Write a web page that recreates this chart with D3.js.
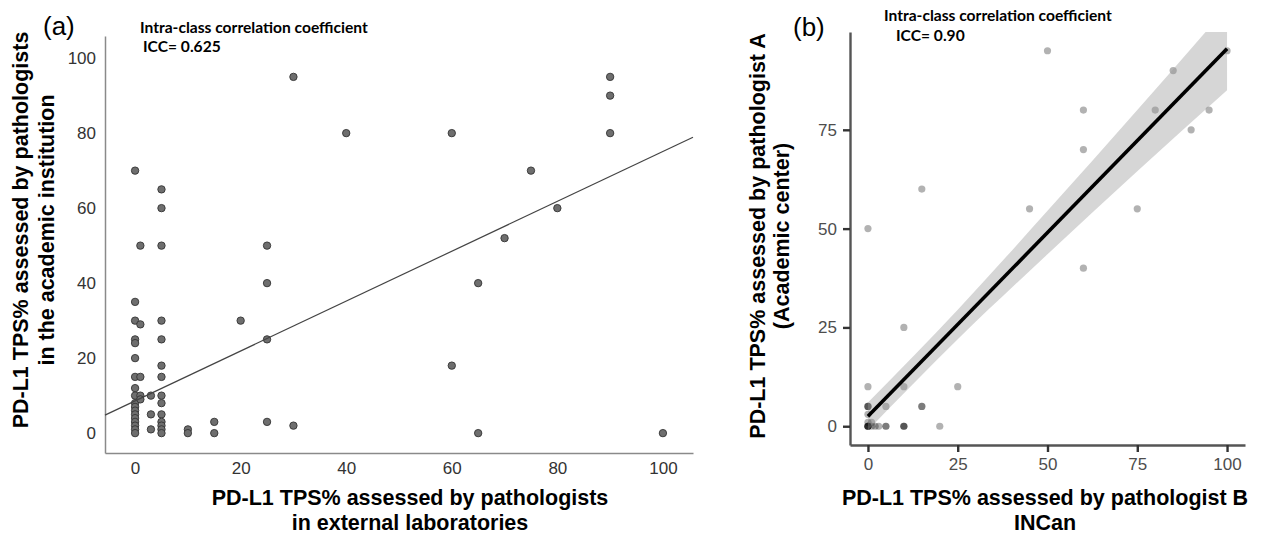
<!DOCTYPE html>
<html>
<head>
<meta charset="utf-8">
<script src="https://cdn.jsdelivr.net/npm/d3@7"></script>
<style>
  body { margin: 0; background: #fff; }
  .lbl { font-family: "Liberation Sans", Arial, sans-serif; font-weight: bold; fill: #000; }
  .icc { font-family: Lato, "Open Sans", sans-serif; font-weight: bold; fill: #000; }
  .tag { font-family: "Liberation Sans", Arial, sans-serif; fill: #000; }
</style>
</head>
<body>
<div id="chart"></div>
<script>
// panel (a): external laboratories (x) vs academic institution (y)
const aX = [0,0,0,0,0,0,0,0,0,0,0,0,0,0,0,0,0,0,
  1,1,1,1,1,
  3,3,3,
  5,5,5,5,5,5,5,5,5,5,5,5,5,5,
  10,10, 15,15, 20, 25,25,25,25, 30,30, 40, 60,60, 65,65, 70, 75, 80, 90,90,90, 100];
const aY = [70,35,30,25,24,20,15,12,10,8,7,6,5,4,3,2,1,0,
  50,29,15,10,9,
  10,5,1,
  65,60,50,30,25,18,15,10,8,5,3,2,1,0,
  1,0, 3,0, 30, 50,40,25,3, 95,2, 80, 80,18, 40,0, 52, 70, 60, 95,90,80, 0];
const aFit = [8.6, 0.665];   // intercept, slope
const aTicks = [0, 20, 40, 60, 80, 100];

// panel (b): pathologist B (x) vs pathologist A (y)
const bX = [0,0,0,0,0,1,0,1,2,3,5,5,10,10,10,20,
  0,0,0,0,5,15,15,
  0,10,25, 10, 0, 15, 45,75, 60, 60, 60,80,95, 90, 85, 50,100];
const bY = [0,0,0,0,0,1,1,0,0,0,0,0,0,0,0,0,
  3,5,5,5,5,5,5,
  10,10,10, 25, 50, 60, 55,55, 40, 70, 80,80,80, 75, 90, 95,95];
const bFit = [2.5, 0.93];
const bandX = [0, 25, 50, 75, 100];
const bandLow = [-1, 22, 43.5, 64.5, 85];
const bandHigh = [6, 29.5, 54.5, 80, 106];
const bTicksX = [0, 25, 50, 75, 100];
const bTicksY = [0, 25, 50, 75];

const W = 1279, H = 538;
const svg = d3.select('#chart').append('svg').attr('width', W).attr('height', H);
svg.append('rect').attr('width', W).attr('height', H).attr('fill', '#fff');

// ---------- panel (a)
const xa = d3.scaleLinear().domain([-5.7, 105.7]).range([105, 693]);
const ya = d3.scaleLinear().domain([-5.3, 105.9]).range([453, 36]);
const ga = svg.append('g');

const styleA = g => {
  g.select('.domain').attr('stroke', '#8a8a8a').attr('stroke-width', 1.5);
  g.selectAll('text').attr('font-family', '"Liberation Sans", Arial, sans-serif')
    .attr('font-size', 17).attr('fill', '#333');
};
ga.append('g')
  .attr('transform', `translate(0,${ya.range()[0]})`)
  .call(d3.axisBottom(xa).tickValues(aTicks).tickSize(0).tickPadding(9).tickSizeOuter(0))
  .call(styleA);
ga.append('g')
  .attr('transform', `translate(${xa.range()[0]},0)`)
  .call(d3.axisLeft(ya).tickValues(aTicks).tickSize(0).tickPadding(9).tickSizeOuter(0))
  .call(styleA);

ga.selectAll('circle').data(aX).join('circle')
  .attr('cx', d => xa(d))
  .attr('cy', (d, i) => ya(aY[i]))
  .attr('r', 3.7)
  .attr('fill', '#6e6e6e')
  .attr('stroke', '#333')
  .attr('stroke-width', 0.9);

const [ax0, ax1] = xa.domain();
ga.append('line')
  .attr('x1', xa(ax0)).attr('y1', ya(aFit[0] + aFit[1] * ax0))
  .attr('x2', xa(ax1)).attr('y2', ya(aFit[0] + aFit[1] * ax1))
  .attr('stroke', '#444').attr('stroke-width', 1.2);

svg.append('text').attr('class', 'tag').attr('x', 43).attr('y', 35).attr('font-size', 26).text('(a)');
svg.append('text').attr('class', 'icc').attr('x', 140).attr('y', 33).attr('font-size', 15.6)
  .text('Intra-class correlation coefficient');
svg.append('text').attr('class', 'icc').attr('x', 143).attr('y', 52).attr('font-size', 15.6)
  .text('ICC= 0.625');

const aYl = svg.append('text').attr('class', 'lbl').attr('font-size', 21.5)
  .attr('text-anchor', 'middle').attr('transform', 'translate(0,230) rotate(-90)');
aYl.append('tspan').attr('x', 0).attr('y', 28).text('PD-L1 TPS% assessed by pathologists');
aYl.append('tspan').attr('x', 0).attr('y', 54).text('in the academic institution');

const aXl = svg.append('text').attr('class', 'lbl').attr('font-size', 21.5).attr('text-anchor', 'middle');
aXl.append('tspan').attr('x', 410).attr('y', 505).text('PD-L1 TPS% assessed by pathologists');
aXl.append('tspan').attr('x', 410).attr('y', 530).text('in external laboratories');

// ---------- panel (b)
const xb = d3.scaleLinear().domain([-5, 105]).range([850, 1245]);
const yb = d3.scaleLinear().domain([-4.75, 99.75]).range([445, 32]);
const gb = svg.append('g');

svg.append('clipPath').attr('id', 'clipb').append('rect')
  .attr('x', xb.range()[0]).attr('y', yb.range()[1])
  .attr('width', xb.range()[1] - xb.range()[0]).attr('height', yb.range()[0] - yb.range()[1]);

const plot = gb.append('g').attr('clip-path', 'url(#clipb)');

plot.selectAll('circle').data(bX).join('circle')
  .attr('cx', d => xb(d))
  .attr('cy', (d, i) => yb(bY[i]))
  .attr('r', 3.6)
  .attr('fill', '#000')
  .attr('fill-opacity', 0.3);

const area = d3.area()
  .x(d => xb(d))
  .y0((d, i) => yb(bandLow[i]))
  .y1((d, i) => yb(bandHigh[i]))
  .curve(d3.curveMonotoneX);
plot.append('path').datum(bandX).attr('d', area)
  .attr('fill', '#999').attr('fill-opacity', 0.4);

plot.append('line')
  .attr('x1', xb(0)).attr('y1', yb(bFit[0]))
  .attr('x2', xb(100)).attr('y2', yb(bFit[0] + bFit[1] * 100))
  .attr('stroke', '#000').attr('stroke-width', 3.6);

const styleB = g => {
  g.select('.domain').attr('stroke', '#555').attr('stroke-width', 2.4);
  g.selectAll('.tick line').attr('stroke', '#333').attr('stroke-width', 2.4);
  g.selectAll('text').attr('font-family', '"Liberation Sans", Arial, sans-serif')
    .attr('font-size', 17).attr('fill', '#4d4d4d');
};
gb.append('g')
  .attr('transform', `translate(0,${yb.range()[0]})`)
  .call(d3.axisBottom(xb).tickValues(bTicksX).tickSize(7).tickPadding(6).tickSizeOuter(0))
  .call(styleB);
gb.append('g')
  .attr('transform', `translate(${xb.range()[0]},0)`)
  .call(d3.axisLeft(yb).tickValues(bTicksY).tickSize(7).tickPadding(6).tickSizeOuter(0))
  .call(styleB);

svg.append('text').attr('class', 'tag').attr('x', 793).attr('y', 36).attr('font-size', 26).text('(b)');
svg.append('text').attr('class', 'icc').attr('x', 884).attr('y', 21).attr('font-size', 15.6)
  .text('Intra-class correlation coefficient');
svg.append('text').attr('class', 'icc').attr('x', 896).attr('y', 41).attr('font-size', 15.6)
  .text('ICC= 0.90');

const bYl = svg.append('text').attr('class', 'lbl').attr('font-size', 21.5)
  .attr('text-anchor', 'middle').attr('transform', 'translate(0,236) rotate(-90)');
bYl.append('tspan').attr('x', 0).attr('y', 765).text('PD-L1 TPS% assessed by pathologist A');
bYl.append('tspan').attr('x', 0).attr('y', 789).text('(Academic center)');

const bXl = svg.append('text').attr('class', 'lbl').attr('font-size', 21.5).attr('text-anchor', 'middle');
bXl.append('tspan').attr('x', 1045).attr('y', 505).text('PD-L1 TPS% assessed by pathologist B');
bXl.append('tspan').attr('x', 1045).attr('y', 530).text('INCan');
</script>
</body>
</html>
